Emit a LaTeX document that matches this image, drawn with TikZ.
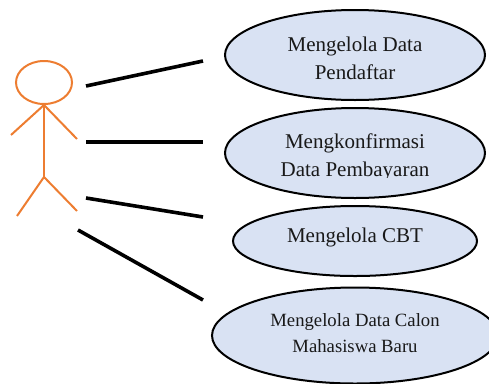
\documentclass[tikz,border=0pt]{standalone}
\usepackage{fontspec}
\setmainfont{Liberation Serif}
\usetikzlibrary{shapes.geometric}
\definecolor{ufill}{HTML}{D9E2F3}
\definecolor{actorc}{HTML}{ED7D31}
\tikzset{
  usecase/.style={ellipse,draw=black,line width=2pt,fill=ufill,inner sep=0pt,outer sep=0pt},
  label/.style={align=center,inner sep=0pt,text=black!90},
  limb/.style={draw=actorc,line width=2pt},
  assoc/.style={draw=black,line width=3.6pt}
}
\newcommand{\fa}{\fontsize{21}{28}\selectfont}
\newcommand{\fb}{\fontsize{18.7}{25.5}\selectfont}
\begin{document}
\begin{tikzpicture}[x=1pt,y=-1pt]
\useasboundingbox (0,0) rectangle (489,383);
\clip (0,0) rectangle (489,383);
% use cases
\node[usecase,minimum width=260pt,minimum height=90pt] (u1) at (355,55) {};
\node[usecase,minimum width=260pt,minimum height=90pt] (u2) at (355,153) {};
\node[usecase,minimum width=244pt,minimum height=70pt] (u3) at (355,241) {};
\node[usecase,minimum width=286pt,minimum height=96pt] (u4) at (355,335.5) {};
\node[label,font=\fa] (t1) at (355,58) {Mengelola Data\\Pendaftar};
\begin{scope}
\clip (225,120) rectangle (485,177.5);
\node[label,font=\fa] (t2) at (355,157) {Mengkonfirmasi\\Data Pembayaran};
\end{scope}
\node[label,font=\fa] (t3) at (355,237.5) {Mengelola CBT};
\node[label,font=\fb] (t4) at (355,333) {Mengelola Data Calon\\Mahasiswa Baru};
% actor
\node[ellipse,draw=actorc,line width=2pt,minimum width=56pt,minimum height=43pt,inner sep=0pt] (head) at (44,82.5) {};
\coordinate (neck) at (44,105);
\coordinate (hip) at (44,177);
\coordinate (handl) at (11,135);
\coordinate (handr) at (77,139);
\coordinate (footl) at (17,216);
\coordinate (footr) at (77,211);
\draw[limb] (neck) -- (hip);
\draw[limb] (handl) -- (neck) -- (handr);
\draw[limb] (footl) -- (hip) -- (footr);
% connectors
\coordinate (a1) at (86,86);
\coordinate (b1) at (203,61);
\coordinate (a2) at (86,142);
\coordinate (b2) at (203,142);
\coordinate (a3) at (86,198);
\coordinate (b3) at (203,217);
\coordinate (a4) at (78,230);
\coordinate (b4) at (203,300);
\draw[assoc] (a1) -- (b1);
\draw[assoc] (a2) -- (b2);
\draw[assoc] (a3) -- (b3);
\draw[assoc] (a4) -- (b4);
\end{tikzpicture}
\end{document}
